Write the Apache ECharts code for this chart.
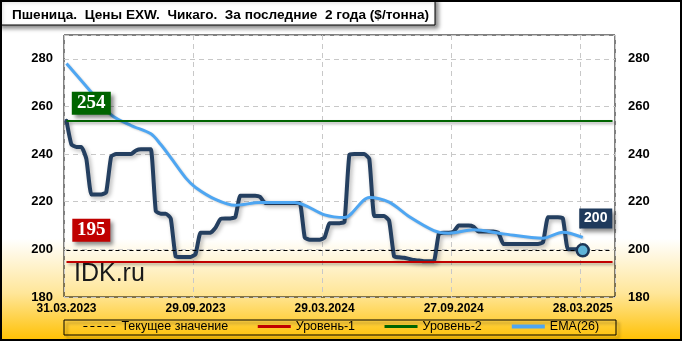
<!DOCTYPE html>
<html><head><meta charset="utf-8">
<script src="https://cdn.jsdelivr.net/npm/echarts@6/dist/echarts.min.js"></script>
<style>html,body{margin:0;padding:0;background:#fff}#c{width:682px;height:341px}</style>
</head><body><div id="c"></div>
<script>
const titleText = 'Пшеница.  Цены EXW.  Чикаго.  За последние  2 года ($/тонна)';
const tickLabels = ['31.03.2023', '29.09.2023', '29.03.2024', '27.09.2024', '28.03.2025'];
const legendNames = ['Текущее значение', 'Уровень-1', 'Уровень-2', 'EMA(26)'];
const watermark = 'IDK.ru';
// weekly prices, $/t
const price = [
  254, 244, 243, 243, 238, 223, 223, 223, 224, 239,
  240, 240, 240, 240, 241.5, 242, 242, 242, 216, 215,
  215, 213, 197, 196.8, 196.8, 196.8, 198, 207, 207, 207,
  209, 212.7, 213, 213, 213.5, 222.5, 222.5, 222.5, 222.5, 222,
  219.5, 219.5, 219.5, 219.5, 219.5, 219.5, 219.5, 219.5, 205, 204,
  204, 204, 205, 211, 211, 211, 211.5, 239.8, 240, 240,
  240, 238, 214, 214, 214, 212, 197, 196.7, 196.5, 196,
  195.5, 195.3, 195, 195, 195, 206.5, 207, 207, 207.5, 210,
  210, 210, 209.5, 207.5, 207.5, 207.5, 207.5, 207, 202.3, 202.3,
  202.3, 202.3, 202.3, 202.3, 202.3, 202.3, 203, 213.5, 213.5, 213.5,
  213, 200, 200, 200, 199.6
];
// EMA(26) read at week indices
const ema = [
  [0, 278], [5, 266], [9, 256.5], [13, 252], [17, 248.5], [19, 244], [21, 238.5],
  [24, 230], [26, 226], [30, 221], [34, 218.5], [39, 219.7], [46, 219.7], [52, 214.5],
  [56, 213.4], [61, 221.8], [65, 219.8], [69, 213.8], [74, 207.9], [77, 206.8],
  [82, 208.2], [88, 206.5], [96, 204.7], [100, 207.2], [104, 205]
];
const level1 = 195;
const level2 = 254;
const categoryCount = 111;
const categories = Array.from({length: categoryCount}, (_, i) => {
  const d = new Date(Date.UTC(2023, 2, 31 + 7 * i));
  const p = n => String(n).padStart(2, '0');
  return p(d.getUTCDate()) + '.' + p(d.getUTCMonth() + 1) + '.' + d.getUTCFullYear();
});
const lastIdx = price.length - 1;
const lastVal = price[lastIdx];
const firstCat = categories[0];
const lastCat = categories[categoryCount - 1];

const chart = echarts.init(document.getElementById('c'), null, {renderer: 'canvas'});
const axisFont = {fontFamily: 'Liberation Sans, Arial, sans-serif', fontWeight: 'bold', fontSize: 13, color: '#000'};
const shadow = {shadowColor: 'rgba(0,0,0,0.35)', shadowBlur: 3, shadowOffsetX: 2, shadowOffsetY: 2};

function levelLine(name, value, color, type, width) {
  return {
    name: name, type: 'line', data: [], symbol: 'none',
    lineStyle: {color: color, type: type, width: width},
    itemStyle: {color: color},
    markLine: {
      silent: true, symbol: ['none', 'none'], label: {show: false},
      lineStyle: Object.assign({color: color, type: type, width: width}, type === 'solid' ? shadow : {}),
      data: [[{coord: [firstCat, value]}, {coord: [lastCat, value]}]]
    }
  };
}

const lvl1 = levelLine(legendNames[1], level1, '#c00000', 'solid', 2);
lvl1.markPoint = {
  symbol: 'rect', symbolSize: [38, 23], symbolOffset: [0, -31],
  itemStyle: {color: '#c00000', shadowColor: 'rgba(0,0,0,0.45)', shadowBlur: 4, shadowOffsetX: 3, shadowOffsetY: 3},
  label: {show: true, position: 'inside', color: '#fff', fontFamily: 'Liberation Serif, serif', fontWeight: 'bold', fontSize: 19, formatter: String(level1)},
  data: [{coord: [categories[5], level1]}]
};
const lvl2 = levelLine(legendNames[2], level2, '#006400', 'solid', 2);
lvl2.markPoint = {
  symbol: 'rect', symbolSize: [39, 23], symbolOffset: [0, -17.5],
  itemStyle: {color: '#006400', shadowColor: 'rgba(0,0,0,0.45)', shadowBlur: 4, shadowOffsetX: 3, shadowOffsetY: 3},
  label: {show: true, position: 'inside', color: '#fff', fontFamily: 'Liberation Serif, serif', fontWeight: 'bold', fontSize: 19, formatter: String(level2)},
  data: [{coord: [categories[5], level2]}]
};
const cur = levelLine(legendNames[0], lastVal, '#000', 'dashed', 1);
cur.markLine.lineStyle.type = [4, 3];

const legendLine = (name, width, type) => ({name: name, itemStyle: {opacity: 0}, lineStyle: {width: width, type: type}});

const option = {
  animation: false,
  backgroundColor: new echarts.graphic.LinearGradient(0, 0, 0, 1, [
    {offset: 0, color: '#ffffff'}, {offset: 0.70, color: '#ffffff'},
    {offset: 0.86, color: '#ffe699'}, {offset: 1, color: '#ffc000'}
  ]),
  textStyle: {fontFamily: 'Liberation Sans, Arial, sans-serif'},
  grid: {left: 64, top: 35, width: 551, height: 262, show: true, borderColor: '#000', borderWidth: 1, backgroundColor: 'transparent'},
  legend: {
    data: [
      legendLine(legendNames[0], 1, [4, 3]),
      legendLine(legendNames[1], 3, 'solid'),
      legendLine(legendNames[2], 3, 'solid'),
      legendLine(legendNames[3], 4, 'solid')
    ],
    top: 320, left: 'center', itemGap: 28, itemWidth: 33, itemHeight: 14, padding: 0,
    textStyle: {fontFamily: 'Liberation Sans, Arial, sans-serif', fontSize: 12.5, color: '#000'}
  },
  graphic: [
    {type: 'rect', z: 100, shape: {x: -2, y: -2, width: 437, height: 27},
      style: {fill: '#fff', stroke: '#000', lineWidth: 1, shadowColor: 'rgba(0,0,0,0.45)', shadowBlur: 4, shadowOffsetX: 3, shadowOffsetY: 3}},
    {type: 'text', z: 101, left: 12, top: 8,
      style: {text: titleText, fill: '#000', font: 'bold 13.6px "Liberation Sans", Arial, sans-serif'}},
    {type: 'rect', z: 1, shape: {x: 64, y: 320, width: 552, height: 15},
      style: {fill: 'rgba(0,0,0,0)', stroke: '#000', lineWidth: 1, shadowColor: 'rgba(0,0,0,0.4)', shadowBlur: 3, shadowOffsetX: 3, shadowOffsetY: 3}},
    {type: 'text', z: 5, left: 74, top: 262,
      style: {text: watermark, fill: '#1a1a1a', font: '25px "Liberation Sans", Arial, sans-serif'}},
    {type: 'rect', z: 200, shape: {x: 1, y: 1, width: 680, height: 339},
      style: {fill: null, stroke: '#000', lineWidth: 2}}
  ],
  xAxis: {
    type: 'category', data: categories, boundaryGap: true,
    axisLine: {show: false}, axisTick: {show: false},
    axisLabel: Object.assign({}, axisFont, {fontSize: 12, interval: 25, margin: 6,
      formatter: (v, i) => (i % 26 === 0 && tickLabels[i / 26]) ? tickLabels[i / 26] : ''}),
    splitLine: {show: true, interval: 25, lineStyle: {color: '#c8c8c8', type: [5, 4], width: 1}}
  },
  yAxis: [
    {type: 'value', min: 180, max: 290, interval: 20, position: 'left',
      axisLine: {show: false}, axisTick: {show: false},
      axisLabel: Object.assign({}, axisFont, {margin: 11, formatter: v => v <= 280 ? String(v) : ''}),
      splitLine: {show: true, lineStyle: {color: '#c8c8c8', type: [5, 4], width: 1}}},
    {type: 'value', min: 180, max: 290, interval: 20, position: 'right',
      axisLine: {show: false}, axisTick: {show: false},
      axisLabel: Object.assign({}, axisFont, {margin: 13, formatter: v => v <= 280 ? String(v) : ''}),
      splitLine: {show: false}}
  ],
  series: [
    cur, lvl1, lvl2,
    {
      name: 'Цена', type: 'line', data: price, symbol: 'none', smooth: 0.15,
      lineStyle: {color: '#243f60', width: 4, cap: 'round', join: 'round', shadowColor: 'rgba(0,0,0,0.3)', shadowBlur: 4, shadowOffsetX: 2, shadowOffsetY: 2},
      itemStyle: {color: '#243f60'},
      markPoint: {
        data: [
          {coord: [categories[lastIdx], lastVal], symbol: 'circle', symbolSize: 12,
            itemStyle: {color: '#5fb4d8', borderColor: '#1c3656', borderWidth: 2.5}, label: {show: false}},
          {coord: [categories[lastIdx], lastVal], symbol: 'rect', symbolSize: [33, 20], symbolOffset: [13, -31.7],
            itemStyle: {color: '#1f3a5c', shadowColor: 'rgba(0,0,0,0.45)', shadowBlur: 4, shadowOffsetX: 3, shadowOffsetY: 3},
            label: {show: true, position: 'inside', color: '#fff', fontFamily: 'Liberation Sans, Arial, sans-serif', fontWeight: 'bold', fontSize: 14,
              formatter: String(Math.round(lastVal))}}
        ]
      }
    },
    {
      name: legendNames[3], type: 'line', data: ema, symbol: 'none', smooth: 0.3,
      lineStyle: {color: '#4ea6f2', width: 3, shadowColor: 'rgba(0,0,0,0.2)', shadowBlur: 2, shadowOffsetX: 1, shadowOffsetY: 1},
      itemStyle: {color: '#4ea6f2'}
    }
  ]
};
chart.setOption(option);
</script>
</body></html>
